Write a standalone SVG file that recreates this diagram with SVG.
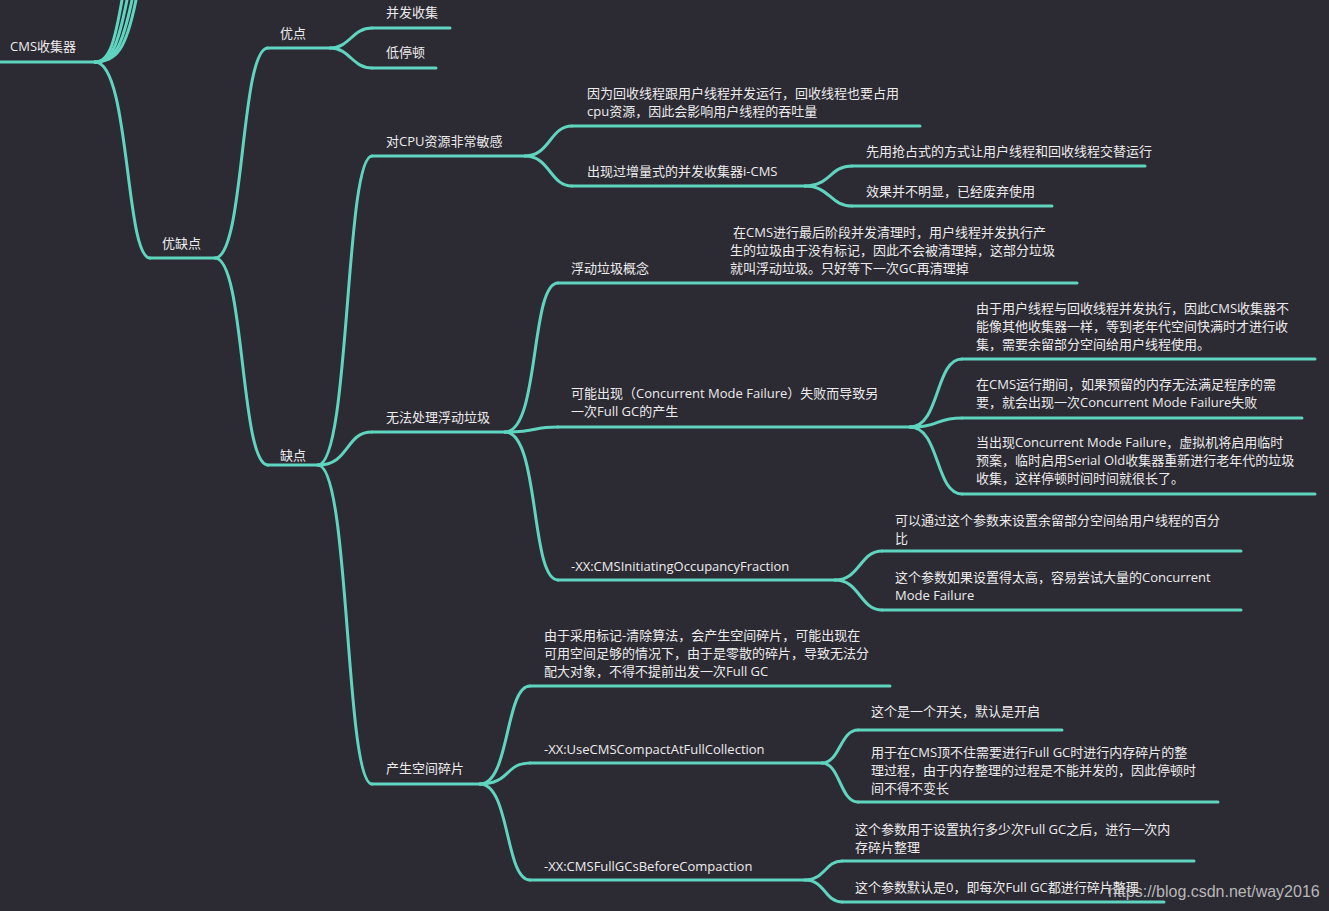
<svg xmlns="http://www.w3.org/2000/svg" width="1329" height="911" viewBox="0 0 1329 911">
<style>
.l{fill:none;stroke:#5fd4bf;stroke-width:3;stroke-linecap:round}
text{font-family:"Open Sans","Noto Sans CJK SC",sans-serif;font-size:13px;fill:#ececec}
.w{font-family:"Liberation Sans",Arial,sans-serif;font-size:16px;fill:#d0d0d0;opacity:0.85}
</style>
<rect width="1329" height="911" fill="#2c2a33"/>
<g id="connectors" class="l">
<path d="M95,62 C110,62 115,40 122,0"/>
<path d="M95,62 C112,62 118,45 127,0"/>
<path d="M95,62 C114,62 122,48 132,0"/>
<path d="M95,62 C116,62 126,50 136,0"/>
<path d="M95,62 C130,62 125,258 150,258"/>
<path d="M215,258 C245,258 240,48 268,48"/>
<path d="M215,258 C245,258 240,465 268,465"/>
<path d="M330,48 C350,48 352,28 372,28"/>
<path d="M330,48 C350,48 352,68 372,68"/>
<path d="M318,465 C350,465 345,156 372,156"/>
<path d="M318,465 C350,465 345,432 372,432"/>
<path d="M318,465 C350,465 345,784 372,784"/>
<path d="M525,156 C550,156 550,126 572,126"/>
<path d="M525,156 C550,156 550,186 572,186"/>
<path d="M805,186 C830,186 830,166 852,166"/>
<path d="M805,186 C830,186 830,206 852,206"/>
<path d="M505,432 C540,432 530,283 558,283"/>
<path d="M505,432 C540,432 530,427 558,427"/>
<path d="M505,432 C540,432 530,580 558,580"/>
<path d="M910,427 C940,427 935,359 962,359"/>
<path d="M910,427 C940,427 935,418 962,418"/>
<path d="M910,427 C940,427 935,494 962,494"/>
<path d="M835,580 C860,580 860,551 882,551"/>
<path d="M835,580 C860,580 860,610 882,610"/>
<path d="M480,784 C510,784 505,686 530,686"/>
<path d="M480,784 C510,784 505,763 530,763"/>
<path d="M480,784 C510,784 505,880 530,880"/>
<path d="M822,763 C840,763 840,730 858,730"/>
<path d="M822,763 C840,763 840,802 858,802"/>
<path d="M805,880 C825,880 825,861 842,861"/>
<path d="M805,880 C825,880 825,902 842,902"/>
</g>
<g id="n-cms" class="l"><path d="M0,62 H95"/></g><text x="10" y="51">CMS收集器</text>
<g id="n-yqd"><path class="l" d="M150,258 H215"/><text x="162" y="248">优缺点</text></g>
<g id="n-yd"><path class="l" d="M268,48 H330"/><text x="280" y="38">优点</text></g>
<g id="n-bf"><path class="l" d="M372,28 H450"/><text x="386" y="17">并发收集</text></g>
<g id="n-dtd"><path class="l" d="M372,68 H436"/><text x="386" y="57">低停顿</text></g>
<g id="n-qd"><path class="l" d="M268,465 H318"/><text x="280" y="460">缺点</text></g>
<g id="n-cpu"><path class="l" d="M372,156 H525"/><text x="386" y="146">对CPU资源非常敏感</text></g>
<g id="n-cpu1"><path class="l" d="M572,126 H920"/><text x="587" y="98">因为回收线程跟用户线程并发运行，回收线程也要占用</text><text x="587" y="116">cpu资源，因此会影响用户线程的吞吐量</text></g>
<g id="n-cpu2"><path class="l" d="M572,186 H805"/><text x="587" y="176">出现过增量式的并发收集器i-CMS</text></g>
<g id="n-cpu21"><path class="l" d="M852,166 H1145"/><text x="866" y="156">先用抢占式的方式让用户线程和回收线程交替运行</text></g>
<g id="n-cpu22"><path class="l" d="M852,206 H1052"/><text x="866" y="196">效果并不明显，已经废弃使用</text></g>
<g id="n-fd"><path class="l" d="M372,432 H505"/><text x="386" y="422">无法处理浮动垃圾</text></g>
<g id="n-fd1"><path class="l" d="M558,283 H1077"/><text x="571" y="273">浮动垃圾概念</text><text x="733" y="237"> 在CMS进行最后阶段并发清理时，用户线程并发执行产</text><text x="730" y="255">生的垃圾由于没有标记，因此不会被清理掉，这部分垃圾</text><text x="730" y="273">就叫浮动垃圾。只好等下一次GC再清理掉</text></g>
<g id="n-fd2"><path class="l" d="M558,427 H910"/><text x="571" y="398">可能出现（Concurrent Mode Failure）失败而导致另</text><text x="571" y="416">一次Full GC的产生</text></g>
<g id="n-fd21"><path class="l" d="M962,359 H1315"/><text x="976" y="313">由于用户线程与回收线程并发执行，因此CMS收集器不</text><text x="976" y="331">能像其他收集器一样，等到老年代空间快满时才进行收</text><text x="976" y="349">集，需要余留部分空间给用户线程使用。</text></g>
<g id="n-fd22"><path class="l" d="M962,418 H1302"/><text x="976" y="389">在CMS运行期间，如果预留的内存无法满足程序的需</text><text x="976" y="407">要，就会出现一次Concurrent Mode Failure失败</text></g>
<g id="n-fd23"><path class="l" d="M962,494 H1315"/><text x="976" y="447">当出现Concurrent Mode Failure，虚拟机将启用临时</text><text x="976" y="465">预案，临时启用Serial Old收集器重新进行老年代的垃圾</text><text x="976" y="483">收集，这样停顿时间时间就很长了。</text></g>
<g id="n-fd3"><path class="l" d="M558,580 H835"/><text x="571" y="571">-XX:CMSInitiatingOccupancyFraction</text></g>
<g id="n-fd31"><path class="l" d="M882,551 H1241"/><text x="895" y="525">可以通过这个参数来设置余留部分空间给用户线程的百分</text><text x="895" y="543">比</text></g>
<g id="n-fd32"><path class="l" d="M882,610 H1241"/><text x="895" y="582">这个参数如果设置得太高，容易尝试大量的Concurrent</text><text x="895" y="600">Mode Failure</text></g>
<g id="n-sp"><path class="l" d="M372,784 H480"/><text x="386" y="773">产生空间碎片</text></g>
<g id="n-sp1"><path class="l" d="M530,686 H890"/><text x="544" y="640">由于采用标记-清除算法，会产生空间碎片，可能出现在</text><text x="544" y="658">可用空间足够的情况下，由于是零散的碎片，导致无法分</text><text x="544" y="676">配大对象，不得不提前出发一次Full GC</text></g>
<g id="n-sp2"><path class="l" d="M530,763 H822"/><text x="544" y="754">-XX:UseCMSCompactAtFullCollection</text></g>
<g id="n-sp21"><path class="l" d="M858,730 H1062"/><text x="871" y="716">这个是一个开关，默认是开启</text></g>
<g id="n-sp22"><path class="l" d="M858,802 H1218"/><text x="871" y="757">用于在CMS顶不住需要进行Full GC时进行内存碎片的整</text><text x="871" y="775">理过程，由于内存整理的过程是不能并发的，因此停顿时</text><text x="871" y="793">间不得不变长</text></g>
<g id="n-sp3"><path class="l" d="M530,880 H805"/><text x="544" y="871">-XX:CMSFullGCsBeforeCompaction</text></g>
<g id="n-sp31"><path class="l" d="M842,861 H1194"/><text x="855" y="834">这个参数用于设置执行多少次Full GC之后，进行一次内</text><text x="855" y="852">存碎片整理</text></g>
<g id="n-sp32"><path class="l" d="M842,902 H1164"/><text x="855" y="892">这个参数默认是0，即每次Full GC都进行碎片整理</text></g>
<text class="w" x="1108" y="897">https://blog.csdn.net/way2016</text>
</svg>
